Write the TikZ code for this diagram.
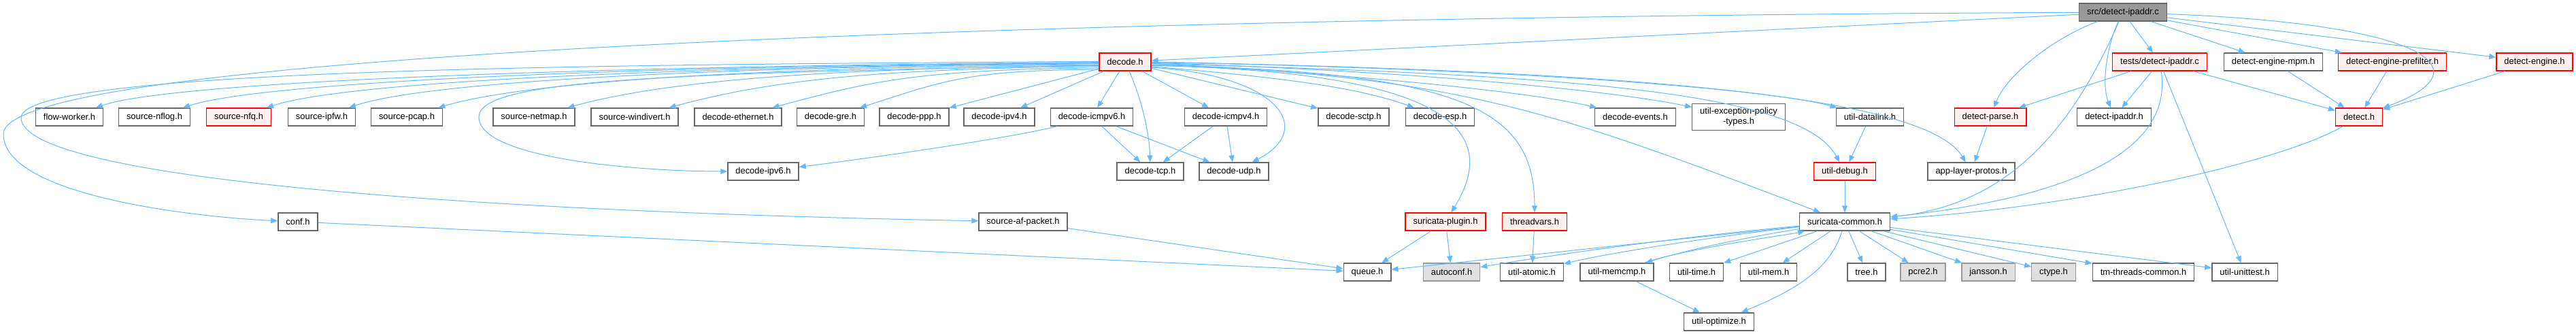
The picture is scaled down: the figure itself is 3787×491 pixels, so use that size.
\documentclass[tikz,border=0pt]{standalone}
\usepackage{fontspec}
\newfontfamily\hdrfont{Liberation Sans}
\usetikzlibrary{arrows.meta}

\definecolor{edgeblue}{HTML}{63B8FF}
\definecolor{boxline}{HTML}{666666}
\definecolor{redfill}{HTML}{FFF0F0}
\definecolor{sysfill}{HTML}{E0E0E0}
\definecolor{sysline}{HTML}{999999}
\definecolor{rootfill}{HTML}{999999}

\tikzset{
  hdr/.style={draw=boxline, fill=white, line width=1pt, font={\hdrfont\fontsize{9.7pt}{11.25pt}\selectfont},
    inner xsep=8.6pt, inner ysep=0pt, minimum height=19.5pt},
  hdrred/.style={hdr, draw=red, fill=redfill},
  hdrsys/.style={hdr, draw=sysline, fill=sysfill},
  hdrroot/.style={hdr, draw=boxline, fill=rootfill},
  inc/.style={draw=edgeblue, line width=0.75pt, -{Triangle[length=7.5pt,width=6pt]}},
}

\begin{document}
\begin{tikzpicture}[x=0.75pt, y=-0.75pt]
  \useasboundingbox (0,0) rectangle (3787,491);

  \node[hdrroot] (src) at (3121,18) {src/detect-ipaddr.c};

  \node[hdrred] (dec) at (1654,91) {decode.h};
  \node[hdrred] (tst) at (3175,91) {tests/detect-ipaddr.c};
  \node[hdr] (mpm) at (3342,91) {detect-engine-mpm.h};
  \node[hdrred] (pref) at (3517,91) {detect-engine-prefilter.h};
  \node[hdrred] (deng) at (3726,91) {detect-engine.h};

  \node[hdr] (fw) at (102,172) {flow-worker.h};
  \node[hdr] (nflog) at (227,172) {source-nflog.h};
  \node[hdrred] (nfq) at (351,172) {source-nfq.h};
  \node[hdr] (ipfw) at (473,172) {source-ipfw.h};
  \node[hdr] (pcap) at (598,172) {source-pcap.h};
  \node[hdr] (netmap) at (785,172) {source-netmap.h};
  \node[hdr] (windiv) at (933,172) {source-windivert.h};
  \node[hdr] (eth) at (1085,172) {decode-ethernet.h};
  \node[hdr] (gre) at (1221,172) {decode-gre.h};
  \node[hdr] (ppp) at (1344,172) {decode-ppp.h};
  \node[hdr] (ipv4) at (1469,172) {decode-ipv4.h};
  \node[hdr] (icmp6) at (1605,172) {decode-icmpv6.h};
  \node[hdr] (icmp4) at (1802,172) {decode-icmpv4.h};
  \node[hdr] (sctp) at (1990,172) {decode-sctp.h};
  \node[hdr] (esp) at (2117,172) {decode-esp.h};
  \node[hdr] (evts) at (2404,172) {decode-events.h};
  \node[hdr, align=center, inner ysep=4.5pt] (expol) at (2556,172) {util-exception-policy\\-types.h};
  \node[hdr] (dlink) at (2749,172) {util-datalink.h};
  \node[hdrred] (parse) at (2926,172) {detect-parse.h};
  \node[hdr] (dipa) at (3108,172) {detect-ipaddr.h};
  \node[hdrred] (det) at (3468,172) {detect.h};

  \node[hdr] (ipv6) at (1122,252) {decode-ipv6.h};
  \node[hdr] (tcp) at (1691,252) {decode-tcp.h};
  \node[hdr] (udp) at (1814,252) {decode-udp.h};
  \node[hdrred] (dbg) at (2712,252) {util-debug.h};
  \node[hdr] (alp) at (2898,252) {app-layer-protos.h};

  \node[hdr] (conf) at (438,326) {conf.h};
  \node[hdr] (afp) at (1504,326) {source-af-packet.h};
  \node[hdrred] (plug) at (2125,326) {suricata-plugin.h};
  \node[hdrred] (tv) at (2256,326) {threadvars.h};
  \node[hdr] (sc) at (2712,326) {suricata-common.h};

  \node[hdr] (queue) at (2010,400) {queue.h};
  \node[hdrsys] (autoc) at (2134,400) {autoconf.h};
  \node[hdr] (atom) at (2252,400) {util-atomic.h};
  \node[hdr] (memcmp) at (2377,400) {util-memcmp.h};
  \node[hdr] (time) at (2494,400) {util-time.h};
  \node[hdr] (mem) at (2600,400) {util-mem.h};
  \node[hdr] (tree) at (2744,400) {tree.h};
  \node[hdrsys] (pcre) at (2827,400) {pcre2.h};
  \node[hdrsys] (jans) at (2923,400) {jansson.h};
  \node[hdrsys] (ctype) at (3019,400) {ctype.h};
  \node[hdr] (tmtc) at (3151,400) {tm-threads-common.h};
  \node[hdr] (unit) at (3300,400) {util-unittest.h};

  \node[hdr] (opt) at (2527,473) {util-optimize.h};

  \draw[inc] (src) -- (dec);
  \draw[inc] (src) .. controls (1500,25) and (5,80) .. (5,197) .. controls (5,290) and (300,320) .. (conf);
  \draw[inc] (src) .. controls (3020,55) and (2950,110) .. (parse);
  \draw[inc] (src) .. controls (3050,180) and (2960,300) .. (sc);
  \draw[inc] (src) .. controls (3100,60) and (3088,120) .. (dipa);
  \draw[inc] (src) -- (tst);
  \draw[inc] (src) -- (mpm);
  \draw[inc] (src) -- (pref);
  \draw[inc] (src) -- (deng);
  \draw[inc] (src) .. controls (3560,35) and (3660,100) .. (det);

  \draw[inc] (dec.181) .. controls (860,97) and (250,120) .. (fw);
  \draw[inc] (dec.182) .. controls (922,97) and (387,120) .. (nflog);
  \draw[inc] (dec.183) .. controls (984,98) and (507,120) .. (nfq);
  \draw[inc] (dec.184) .. controls (1045,98) and (625,120) .. (ipfw);
  \draw[inc] (dec.186) .. controls (1107,99) and (774,120) .. (pcap);
  \draw[inc] (dec.188) .. controls (1201,100) and (973,120) .. (netmap);
  \draw[inc] (dec.190) .. controls (1275,101) and (1125,120) .. (windiv);
  \draw[inc] (dec.193) .. controls (1351,102) and (1277,120) .. (eth);
  \draw[inc] (dec.196) .. controls (1419,103) and (1385,120) .. (gre);
  \draw[inc] (dec) -- (ppp);
  \draw[inc] (dec) -- (ipv4);
  \draw[inc] (dec) -- (icmp6);
  \draw[inc] (dec) -- (icmp4);
  \draw[inc] (dec) .. controls (1680,150) and (1690,200) .. (tcp);
  \draw[inc] (dec.-12) .. controls (1880,110) and (1935,190) .. (udp);
  \draw[inc] (dec.187) .. controls (1000,108) and (704,115) .. (704,172) .. controls (704,235) and (950,252) .. (ipv6);
  \draw[inc] (dec.179) .. controls (900,95) and (31,100) .. (31,173) .. controls (31,260) and (650,310) .. (afp);
  \draw[inc] (dec) -- (sctp);
  \draw[inc] (dec.-10) .. controls (1900,115) and (2000,130) .. (esp);
  \draw[inc] (dec.-3) .. controls (2000,110) and (2250,135) .. (evts);
  \draw[inc] (dec.-2) .. controls (2100,105) and (2380,135) .. (expol);
  \draw[inc] (dec.-1) .. controls (2200,100) and (2600,130) .. (dlink);
  \draw[inc] (dec.-4) .. controls (2350,110) and (2650,140) .. (dbg);
  \draw[inc] (dec.0) .. controls (2400,105) and (2830,140) .. (alp);
  \draw[inc] (dec.-8) .. controls (2100,105) and (2215,180) .. (plug);
  \draw[inc] (dec.-7) .. controls (2150,105) and (2256,160) .. (tv);
  \draw[inc] (dec.-6) .. controls (2150,110) and (2300,170) .. (sc);

  \draw[inc] (icmp6) .. controls (1500,200) and (1300,230) .. (ipv6);
  \draw[inc] (icmp6) -- (tcp);
  \draw[inc] (icmp6) -- (udp);
  \draw[inc] (icmp4) -- (tcp);
  \draw[inc] (icmp4) -- (udp);

  \draw[inc] (tst) -- (parse);
  \draw[inc] (tst) -- (dipa);
  \draw[inc] (tst) .. controls (3195,220) and (3050,290) .. (sc);
  \draw[inc] (tst) -- (unit);
  \draw[inc] (tst) -- (det);
  \draw[inc] (mpm) -- (det);
  \draw[inc] (pref) -- (det);
  \draw[inc] (deng) -- (det);
  \draw[inc] (det) .. controls (3350,240) and (3050,305) .. (sc);

  \draw[inc] (parse) -- (alp);
  \draw[inc] (dlink) -- (dbg);
  \draw[inc] (dbg) -- (sc);

  \draw[inc] (conf) -- (queue);
  \draw[inc] (afp) -- (queue);
  \draw[inc] (plug) -- (queue);
  \draw[inc] (plug) -- (autoc);
  \draw[inc] (tv) -- (atom);

  \draw[inc] (sc) -- (queue);
  \draw[inc] (sc) .. controls (2450,350) and (2250,380) .. (autoc);
  \draw[inc] (sc) .. controls (2500,350) and (2350,375) .. (atom);
  \draw[inc] (sc) .. controls (2560,350) and (2470,370) .. (memcmp);
  \draw[inc] (memcmp) .. controls (2480,365) and (2630,345) .. (sc);
  \draw[inc] (sc) -- (time);
  \draw[inc] (sc) -- (mem);
  \draw[inc] (sc) -- (tree);
  \draw[inc] (sc) -- (pcre);
  \draw[inc] (sc) -- (jans);
  \draw[inc] (sc) -- (ctype);
  \draw[inc] (sc) -- (tmtc);
  \draw[inc] (sc) -- (unit);
  \draw[inc] (sc) .. controls (2690,400) and (2630,430) .. (opt);
  \draw[inc] (memcmp) -- (opt);
\end{tikzpicture}
\end{document}
